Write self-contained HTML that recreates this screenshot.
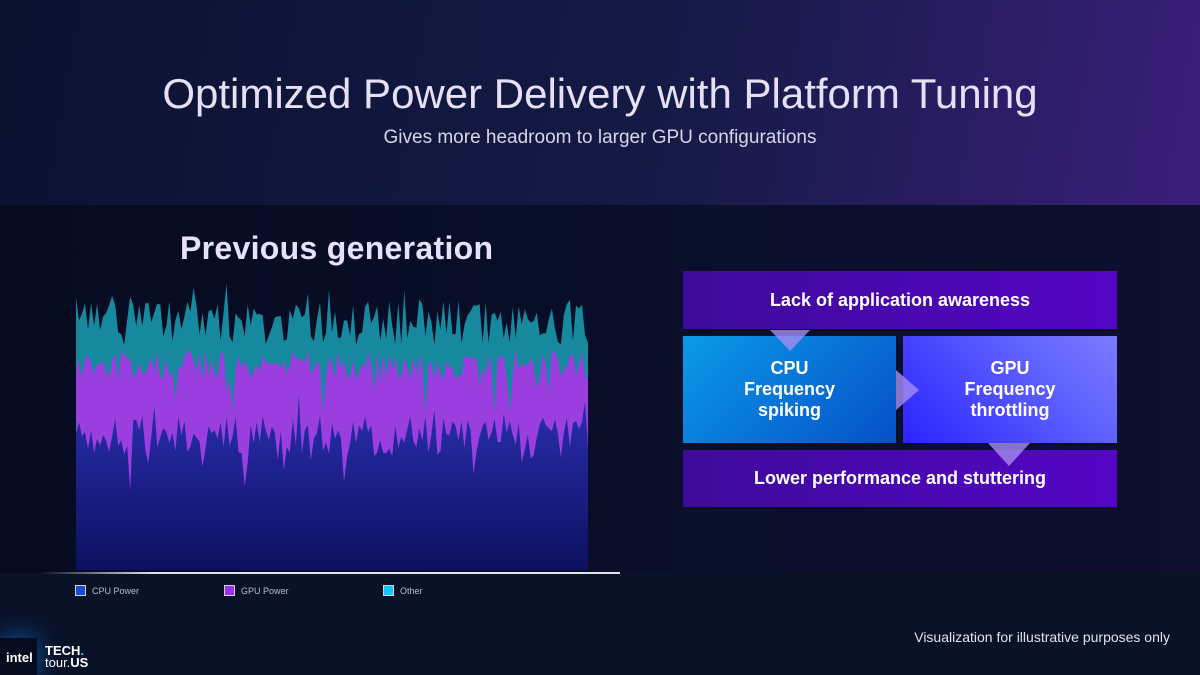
<!DOCTYPE html>
<html><head><meta charset="utf-8"><style>
*{margin:0;padding:0;box-sizing:border-box}
body{width:1200px;height:675px;overflow:hidden;position:relative;font-family:"Liberation Sans",sans-serif;background:#0a1228;color:#fff}
.top{position:absolute;left:0;top:0;width:1200px;height:205px;background:linear-gradient(100deg,#0b1230 0%,#141a45 55%,#3a1f7a 100%)}
.mid{position:absolute;left:0;top:205px;width:1200px;height:368px;background:linear-gradient(90deg,#060b20 0%,#0a0f2a 60%,#0f0f30 100%)}
h1{position:absolute;top:70px;width:1200px;text-align:center;font-weight:normal;font-size:42px;color:#e6e0f6;letter-spacing:0px}
.sub{position:absolute;top:127px;width:1200px;text-align:center;font-size:19px;color:#d8d6e6}
.pg{position:absolute;left:180px;top:230px;font-size:32px;font-weight:bold;color:#e8e0ff;letter-spacing:0.3px}
.box{position:absolute;display:flex;align-items:center;justify-content:center;text-align:center;font-weight:bold;color:#fff;font-size:18px;line-height:21px}
.leg{position:absolute;top:585px;font-size:9px;color:#b8bcd0;display:flex;align-items:center;gap:6px}
.leg i{display:inline-block;width:11px;height:11px;border:1px solid #cfd3e6}
</style></head><body>
<div class="top"></div><div class="mid"></div>
<h1>Optimized Power Delivery with Platform Tuning</h1>
<div class="sub">Gives more headroom to larger GPU configurations</div>
<div class="pg">Previous generation</div>
<svg style="position:absolute;left:0;top:0" width="1200" height="675">
<defs><linearGradient id="bl" x1="0" y1="0" x2="0" y2="1"><stop offset="0" stop-color="#2a2fb0"/><stop offset="1" stop-color="#0d1060"/></linearGradient>
<linearGradient id="ln" x1="0" x2="1"><stop offset="0" stop-color="#fff" stop-opacity="0"/><stop offset=".2" stop-color="#e0e4f0"/><stop offset="1" stop-color="#e0e4f0"/></linearGradient></defs>
<path id="t" fill="#17899e"/><path id="p" fill="#9a3ee0"/><path id="b" fill="url(#bl)"/>
<rect x="40" y="572" width="580" height="2" fill="url(#ln)"/>
</svg>
<div class="box" style="left:683px;top:271px;width:434px;height:58px;background:linear-gradient(90deg,#3d0a9a,#5406c4)">Lack of application awareness</div>
<div class="box" style="left:683px;top:336px;width:213px;height:107px;background:linear-gradient(135deg,#0a9ae8,#0650c8)">CPU<br>Frequency<br>spiking</div>
<div class="box" style="left:903px;top:336px;width:214px;height:107px;background:linear-gradient(45deg,#2a24ff,#5a5cff 60%,#7c7cff)">GPU<br>Frequency<br>throttling</div>
<div class="box" style="left:683px;top:450px;width:434px;height:57px;background:linear-gradient(90deg,#3d0a9a,#5406c4)">Lower performance and stuttering</div>
<svg style="position:absolute;left:0;top:0" width="1200" height="675">
<polygon points="770,330 810,330 790,351" fill="#a68cf0" opacity=".8"/>
<polygon points="896,370 896,410 919,390" fill="#a68cf0" opacity=".8"/>
<polygon points="988,443 1030,443 1009,466" fill="#a68cf0" opacity=".8"/>
</svg>
<div class="leg" style="left:75px"><i style="background:#1a4bd0"></i>CPU Power</div>
<div class="leg" style="left:224px"><i style="background:#a030f0"></i>GPU Power</div>
<div class="leg" style="left:383px"><i style="background:#10c8ff"></i>Other</div>
<div style="position:absolute;right:30px;top:629px;font-size:14px;color:#e0e2ee">Visualization for illustrative purposes only</div>
<div style="position:absolute;left:0;top:638px;width:37px;height:37px;background:#050a1c;box-shadow:0 0 25px #0a5ab0;font-size:13px;font-weight:bold;padding:12px 0 0 6px">intel</div>
<div style="position:absolute;left:45px;top:645px;font-size:13px;font-weight:bold;line-height:12px">TECH<span style="color:#10c8ff">.</span><br><span style="font-weight:normal">tour.</span>US</div>
<script>
var s=7;function r(){s=(s*16807)%2147483647;return s/2147483647}
var n=170,x0=76,x1=588,T=[],P=[],B=[];
for(var i=0;i<=n;i++){var sp=r()<.15?1:0;
T.push(345-r()*45-(sp?r()*20:0));P.push(380-r()*30+(r()<.1?r()*50:0));B.push(455-r()*40+(r()<.2?r()*40:0)-(r()<.08?r()*30:0));}
function mk(a){var d="M"+x0+",570";for(var i=0;i<=n;i++)d+="L"+(x0+(x1-x0)*i/n).toFixed(1)+","+a[i].toFixed(1);return d+"L"+x1+",570Z"}
document.getElementById('t').setAttribute('d',mk(T));
document.getElementById('p').setAttribute('d',mk(P));
document.getElementById('b').setAttribute('d',mk(B));
</script>
</body></html>
